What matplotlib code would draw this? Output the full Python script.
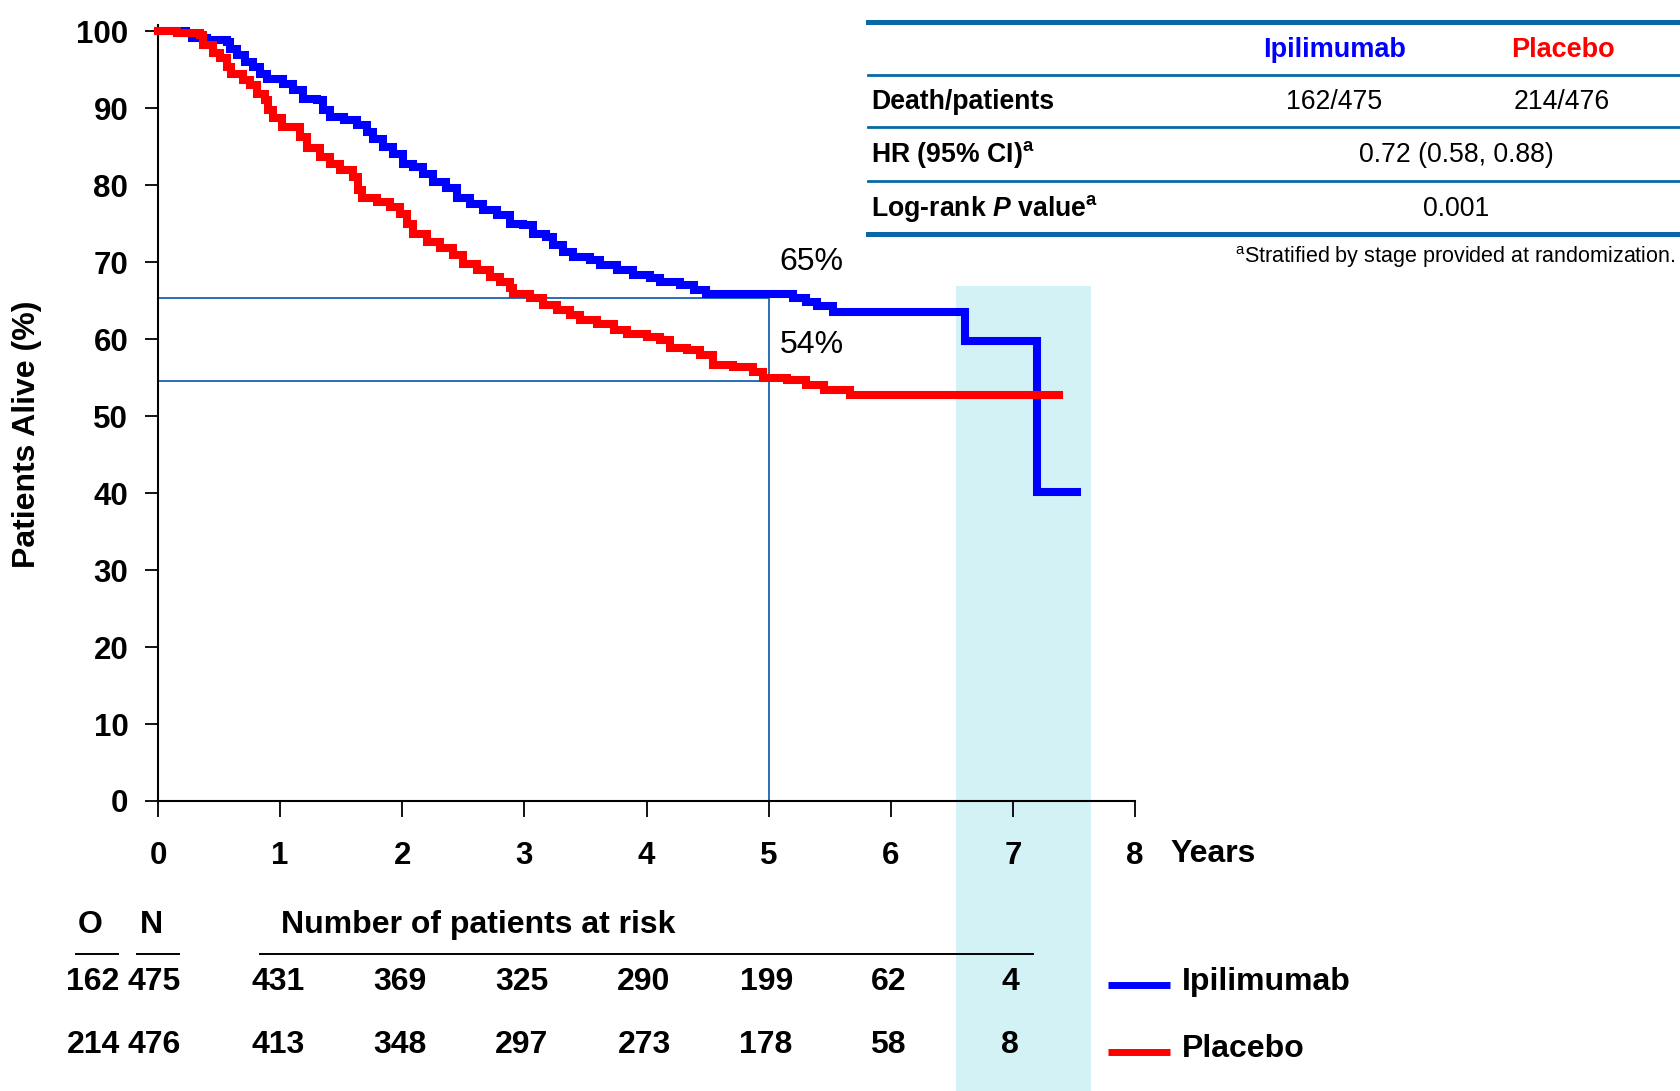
import matplotlib
matplotlib.use("Agg")
import matplotlib.pyplot as plt
import matplotlib.transforms as mtransforms
from matplotlib.lines import Line2D
from matplotlib.patches import Rectangle

plt.rcParams['font.family'] = ['Liberation Sans', 'DejaVu Sans']
plt.rcParams['mathtext.fontset'] = 'custom'
plt.rcParams['mathtext.rm'] = 'Liberation Sans'
plt.rcParams['mathtext.bf'] = 'Liberation Sans:bold'
plt.rcParams['mathtext.it'] = 'Liberation Sans:italic'
try:
    plt.rcParams['mathtext.bfit'] = 'Liberation Sans:italic:bold'
except Exception:
    pass

# ---------------- data ----------------
ipi_t = [0, 0.23, 0.276, 0.40, 0.563, 0.59, 0.645, 0.71, 0.78, 0.835, 0.89,
         1.026, 1.108, 1.19, 1.30, 1.354, 1.41, 1.52, 1.627, 1.71, 1.763, 1.845,
         1.927, 2.009, 2.09, 2.173, 2.255, 2.36, 2.446, 2.555, 2.665, 2.774,
         2.883, 2.99, 3.07, 3.18, 3.237, 3.32, 3.40, 3.538, 3.62, 3.757, 3.893,
         4.03, 4.11, 4.275, 4.385, 4.49, 5.20, 5.31, 5.395, 5.53, 6.61, 7.20, 7.525]
ipi_s = [100, 99.7, 99.05, 98.8, 98.6, 97.7, 96.9, 96.0, 95.4, 94.5, 93.85,
         93.2, 92.3, 91.25, 91.0, 89.7, 88.9, 88.4, 87.8, 86.9, 86.05, 84.97,
         84.1, 82.8, 82.4, 81.5, 80.4, 79.6, 78.3, 77.6, 76.75, 76.1,
         75.0, 74.8, 73.7, 73.3, 72.2, 71.35, 70.7, 70.25, 69.6, 68.96, 68.3,
         67.9, 67.4, 67.0, 66.4, 65.9, 65.3, 64.8, 64.3, 63.55, 59.8, 40.2, 40.2]

pla_t = [0, 0.153, 0.344, 0.371, 0.453, 0.508, 0.563, 0.60, 0.70, 0.753, 0.808,
         0.876, 0.90, 0.945, 1.013, 1.163, 1.218, 1.327, 1.409, 1.49, 1.60, 1.64,
         1.668, 1.79, 1.90, 1.98, 2.037, 2.09, 2.20, 2.31, 2.418, 2.50, 2.61,
         2.72, 2.80, 2.88, 2.91, 3.047, 3.156, 3.265, 3.374, 3.456, 3.593, 3.73,
         3.84, 4.00, 4.11, 4.19, 4.33, 4.44, 4.548, 4.71, 4.875, 4.958, 5.15,
         5.31, 5.45, 5.67, 7.375]
pla_s = [100, 99.7, 99.5, 98.2, 97.1, 96.45, 95.35, 94.5, 93.6, 93.0, 91.9,
         91.04, 89.7, 88.7, 87.6, 86.3, 84.8, 83.7, 82.8, 81.95, 81.1, 79.35,
         78.3, 77.8, 77.2, 76.3, 75.0, 73.7, 72.6, 71.8, 70.9, 69.8, 68.96,
         68.1, 67.4, 66.6, 65.9, 65.3, 64.4, 63.8, 63.1, 62.5, 62.0, 61.2,
         60.7, 60.3, 59.9, 58.8, 58.6, 57.9, 56.6, 56.4, 55.75, 54.9, 54.7,
         54.0, 53.4, 52.7, 52.7]

ref_year = 5
ref_levels = [65.3, 54.6]
ref_labels = ["65%", "54%"]

x_ticks = [0, 1, 2, 3, 4, 5, 6, 7, 8]
y_ticks = [0, 10, 20, 30, 40, 50, 60, 70, 80, 90, 100]

risk_years = [1, 2, 3, 4, 5, 6, 7]
ipi_risk = [431, 369, 325, 290, 199, 62, 4]
pla_risk = [413, 348, 297, 273, 178, 58, 8]
ipi_on = ["162", "475"]
pla_on = ["214", "476"]

band_years = (6.535, 7.64)

BLUE = '#0000ff'
RED = '#ff0000'
REFC = '#2a6db5'
TABC = '#0869a6'
BANDC = '#d3f2f5'

W, H = 1680, 1091
fig = plt.figure(figsize=(W / 100, H / 100), dpi=100)

def fx(px):
    return px / W

def fy(py):
    return 1 - py / H

ax = fig.add_axes([fx(158), fy(801), fx(1135) - fx(158), (801 - 25) / H])
ax.set_xlim(0, 8)
ax.set_ylim(0, 100.8)

# highlight band (x in data, y in figure)
btrans = mtransforms.blended_transform_factory(ax.transData, fig.transFigure)
ax.add_patch(Rectangle((band_years[0], 0), band_years[1] - band_years[0], fy(286),
                       transform=btrans, facecolor=BANDC, edgecolor='none',
                       clip_on=False, zorder=0))

# reference lines
for lv in ref_levels:
    ax.plot([0, ref_year], [lv, lv], color=REFC, lw=1.4, zorder=1)
ax.plot([ref_year, ref_year], [0, max(ref_levels)], color=REFC, lw=1.4, zorder=1)

ax.plot(ipi_t, ipi_s, drawstyle='steps-post', color=BLUE, lw=5.8, zorder=3,
        solid_joinstyle='miter', clip_on=False)
ax.plot(pla_t, pla_s, drawstyle='steps-post', color=RED, lw=5.8, zorder=3,
        solid_joinstyle='miter', clip_on=False)

ax.text(5.09, 70.0, ref_labels[0], fontsize=23, va='center', ha='left')
ax.text(5.09, 59.2, ref_labels[1], fontsize=23, va='center', ha='left')

for s in ['top', 'right']:
    ax.spines[s].set_visible(False)
for s in ['left', 'bottom']:
    ax.spines[s].set_linewidth(1.5)
ax.set_xticks(x_ticks)
ax.set_yticks(y_ticks)
ax.set_xticklabels([str(v) for v in x_ticks], fontsize=22.5, fontweight='bold')
ax.set_yticklabels([str(v) for v in y_ticks], fontsize=22.5, fontweight='bold')
ax.tick_params(axis='x', length=11.5, width=1.3, pad=17)
ax.tick_params(axis='y', length=9.4, width=1.3, pad=12)
ax.patch.set_alpha(0)

fig.text(fx(1170), fy(854), "Years", fontsize=23, fontweight='bold', va='center', ha='left')
fig.text(fx(27), fy(434), "Patients Alive (%)", fontsize=23, fontweight='bold',
         rotation=90, va='center', ha='center')

# ---------------- table ----------------
def hline(y, lw):
    fig.add_artist(Line2D([fx(868), 1.0], [fy(y), fy(y)], color=TABC, lw=lw,
                          transform=fig.transFigure))

hline(22, 3.6)
hline(75, 2.0)
hline(127, 2.0)
hline(181, 2.0)
hline(234, 3.6)

TFS = 19.2
fig.text(fx(1335), fy(50), "Ipilimumab", color=BLUE, fontsize=19.5, fontweight='bold',
         ha='center', va='center')
fig.text(fx(1563), fy(50), "Placebo", color=RED, fontsize=19.5, fontweight='bold',
         ha='center', va='center')
fig.text(fx(871), fy(102), "Death/patients", fontsize=TFS, fontweight='bold',
         ha='left', va='center')
fig.text(fx(1334), fy(102), f"{ipi_on[0]}/{ipi_on[1]}", fontsize=TFS, ha='center', va='center')
fig.text(fx(1562), fy(102), f"{pla_on[0]}/{pla_on[1]}", fontsize=TFS, ha='center', va='center')
fig.text(fx(871), fy(155), r"HR (95% CI)$^{\mathbf{a}}$", fontsize=TFS, fontweight='bold',
         ha='left', va='center')
fig.text(fx(1456), fy(155), "0.72 (0.58, 0.88)", fontsize=TFS, ha='center', va='center')
fig.text(fx(871), fy(209), r"Log-rank $\mathbfit{P}$ value$^{\mathbf{a}}$", fontsize=TFS,
         fontweight='bold', ha='left', va='center')
fig.text(fx(1456), fy(209), "0.001", fontsize=TFS, ha='center', va='center')
fig.text(fx(1676), fy(257), r"$^{\mathrm{a}}$Stratified by stage provided at randomization.",
         fontsize=15.5, ha='right', va='center')

# ---------------- risk table ----------------
RFS = 23
fig.text(fx(90), fy(925), "O", fontsize=RFS, fontweight='bold', ha='center', va='center')
fig.text(fx(151), fy(925), "N", fontsize=RFS, fontweight='bold', ha='center', va='center')
fig.text(fx(281), fy(925), "Number of patients at risk", fontsize=RFS, fontweight='bold',
         ha='left', va='center')
for x0, x1 in [(76, 118), (137, 179), (260, 1033)]:
    fig.add_artist(Line2D([fx(x0), fx(x1)], [fy(954), fy(954)], color='black', lw=1.4,
                          transform=fig.transFigure))

for (on, risk, yy) in [(ipi_on, ipi_risk, 982), (pla_on, pla_risk, 1045)]:
    fig.text(fx(93), fy(yy), on[0], fontsize=RFS, fontweight='bold', ha='center', va='center')
    fig.text(fx(154), fy(yy), on[1], fontsize=RFS, fontweight='bold', ha='center', va='center')
    for yr, n in zip(risk_years, risk):
        ax.text(yr - 0.02, fy(yy), str(n), transform=btrans, fontsize=RFS, fontweight='bold',
                ha='center', va='center', clip_on=False)

# legend
for col, yy, lab in [(BLUE, 985, "Ipilimumab"), (RED, 1052, "Placebo")]:
    fig.add_artist(Line2D([fx(1108), fx(1170)], [fy(yy), fy(yy)], color=col, lw=5,
                          transform=fig.transFigure, solid_capstyle='butt'))
    fig.text(fx(1182), fy(yy - 3), lab, fontsize=RFS, fontweight='bold', ha='left', va='center')

fig.savefig("out.png", dpi=100)
